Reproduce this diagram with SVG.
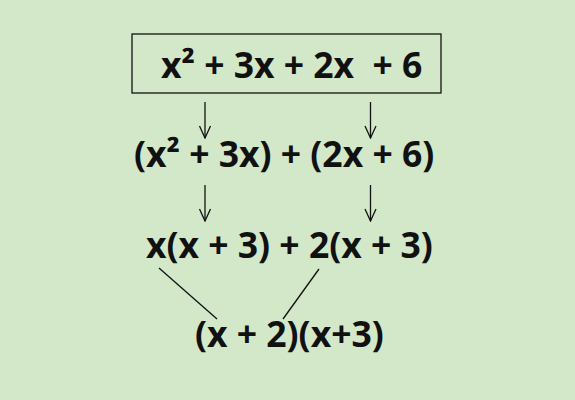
<svg xmlns="http://www.w3.org/2000/svg" width="575" height="400" viewBox="0 0 575 400">
<style>
.t{font-family:"Open Sans","Noto Sans","DejaVu Sans",sans-serif;font-weight:700;font-size:35.5px;fill:#111;white-space:pre}
.c{stroke:#111;stroke-width:1.3;fill:none}
</style>
<defs>
<marker id="ah" viewBox="0 0 14 14" refX="13" refY="7" markerWidth="14" markerHeight="14" markerUnits="userSpaceOnUse" orient="auto">
<path d="M1,1.5 L13,7 L1,12.5" fill="none" stroke="#111" stroke-width="1.3"/>
</marker>
</defs>
<rect width="575" height="400" fill="#d3e8c9"/>
<g id="node1">
<rect x="132" y="34" width="309" height="59" fill="none" stroke="#111" stroke-width="1.3"/>
<text class="t" x="161" y="78" xml:space="preserve">x² + 3x + 2x  + 6</text>
</g>
<g id="node2"><text class="t" x="134" y="167">(x² + 3x) + (2x + 6)</text></g>
<g id="node3"><text class="t" x="146" y="258">x(x + 3) + 2(x + 3)</text></g>
<g id="node4"><text class="t" x="195" y="347">(x + 2)(x+3)</text></g>
<g id="connectors">
<line class="c" x1="205" y1="102" x2="205" y2="138" marker-end="url(#ah)"/>
<line class="c" x1="370.5" y1="102" x2="370.5" y2="138" marker-end="url(#ah)"/>
<line class="c" x1="205" y1="185" x2="205" y2="221" marker-end="url(#ah)"/>
<line class="c" x1="370.5" y1="185" x2="370.5" y2="221" marker-end="url(#ah)"/>
<line class="c" x1="159" y1="268" x2="217" y2="319"/>
<line class="c" x1="319" y1="269" x2="283" y2="319"/>
</g>
</svg>
